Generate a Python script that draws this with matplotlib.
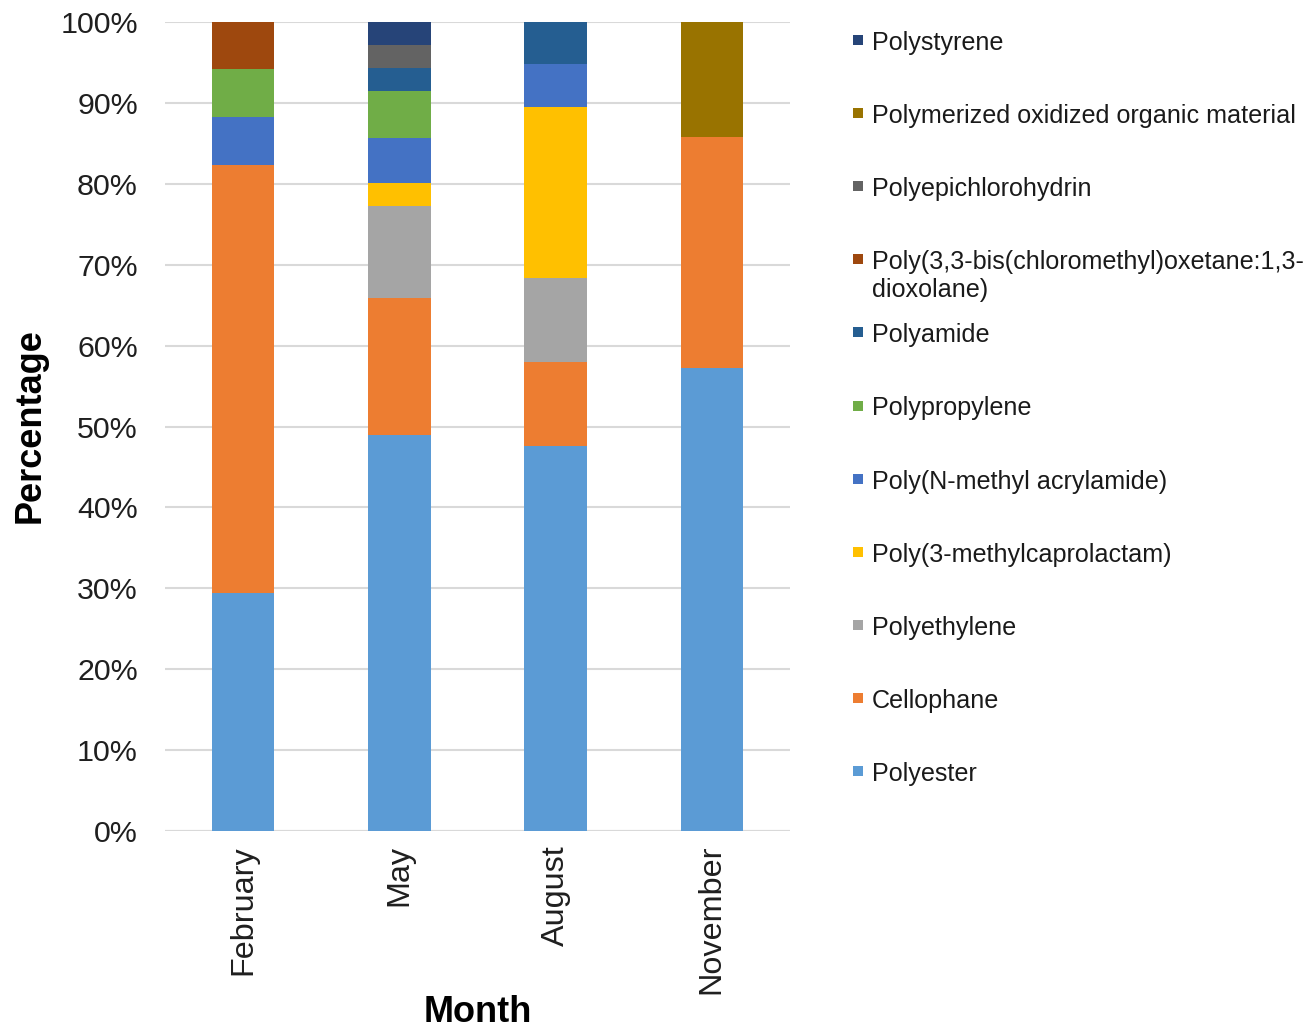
import matplotlib
matplotlib.use("Agg")
import matplotlib.pyplot as plt
from matplotlib.patches import Rectangle
from matplotlib.ticker import PercentFormatter

plt.rcParams["font.family"] = ["Liberation Sans", "DejaVu Sans"]

months = ["February", "May", "August", "November"]

# Polymer types, stacked from the bottom of each bar upwards (percent of particles)
polymers = [
    "Polyester",
    "Cellophane",
    "Polyethylene",
    "Poly(3-methylcaprolactam)",
    "Poly(N-methyl acrylamide)",
    "Polypropylene",
    "Polyamide",
    "Poly(3,3-bis(chloromethyl)oxetane:1,3-\ndioxolane)",
    "Polyepichlorohydrin",
    "Polymerized oxidized organic material",
    "Polystyrene",
]

polyester = [29.4, 48.9, 47.6, 57.2]
cellophane = [52.9, 17.0, 10.4, 28.6]
polyethylene = [0.0, 11.4, 10.4, 0.0]
poly_methylcaprolactam = [0.0, 2.8, 21.1, 0.0]
poly_n_methyl_acrylamide = [5.9, 5.6, 5.3, 0.0]
polypropylene = [6.0, 5.8, 0.0, 0.0]
polyamide = [0.0, 2.85, 5.2, 0.0]
poly_bis_chloromethyl_oxetane = [5.8, 0.0, 0.0, 0.0]
polyepichlorohydrin = [0.0, 2.75, 0.0, 0.0]
polymerized_oxidized_organic = [0.0, 0.0, 0.0, 14.2]
polystyrene = [0.0, 2.9, 0.0, 0.0]

series = [
    polyester, cellophane, polyethylene, poly_methylcaprolactam,
    poly_n_methyl_acrylamide, polypropylene, polyamide,
    poly_bis_chloromethyl_oxetane, polyepichlorohydrin,
    polymerized_oxidized_organic, polystyrene,
]

colors = [
    "#5B9BD5", "#ED7D31", "#A5A5A5", "#FFC000", "#4472C4", "#70AD47",
    "#255E91", "#9E480E", "#636363", "#997300", "#264478",
]

W, H = 1307, 1031
fig = plt.figure(figsize=(W / 100, H / 100), dpi=100)
ax = fig.add_axes([165 / W, 1 - 831 / H, 625 / W, 809 / H])

x = list(range(len(months)))
bottom = [0.0] * len(months)
for vals, col in zip(series, colors):
    ax.bar(x, vals, bottom=bottom, width=0.4, color=col, zorder=3, linewidth=0)
    bottom = [b + v for b, v in zip(bottom, vals)]

ax.set_xlim(-0.5, 3.5)
ax.set_ylim(0, 100)
ax.set_yticks(range(0, 101, 10))
ax.yaxis.set_major_formatter(PercentFormatter(decimals=0))
ax.grid(axis="y", color="#D9D9D9", linewidth=1.5, zorder=0)
for s in ax.spines.values():
    s.set_visible(False)
ax.axhline(0, color="#D9D9D9", linewidth=1.5, zorder=1)
ax.tick_params(axis="y", length=0, pad=19.5, labelsize=21.9, labelcolor="#1f1f1f")
ax.tick_params(axis="x", length=0, pad=10, labelsize=23.3, labelcolor="#1f1f1f")
ax.set_xticks(x)
ax.set_xticklabels(months, rotation=90, va="top", ha="center")

fig.text(30 / W, 1 - 426 / H, "Percentage", rotation=90, ha="center", va="center",
         fontsize=26, fontweight="bold", color="black")
fig.text(478 / W, 1 - 1013 / H, "Month", ha="center", va="center",
         fontsize=26, fontweight="bold", color="black")

# Legend, listed top-down in reverse stacking order
legend_items = list(zip(polymers, colors))[::-1]
row0, step = 40, 73.1
for i, (name, col) in enumerate(legend_items):
    yc = row0 + step * i
    fig.add_artist(Rectangle((853 / W, 1 - (yc + 5) / H), 10 / W, 10 / H,
                             transform=fig.transFigure, facecolor=col,
                             edgecolor="none"))
    fig.text(872 / W, 1 - (yc - 9) / H, name, ha="left", va="top",
             fontsize=18.1, color="#1a1a1a", linespacing=1.17)

fig.savefig("out.png", dpi=100, facecolor="white")
